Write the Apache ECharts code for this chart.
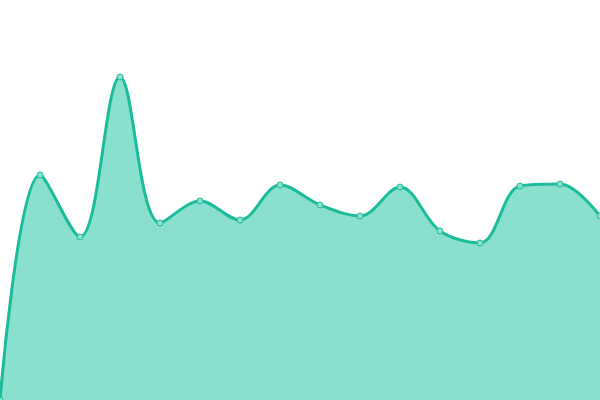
<!DOCTYPE html>
<html>
<head>
<meta charset="utf-8">
<script src="https://cdn.jsdelivr.net/npm/echarts@6/dist/echarts.min.js"></script>
<style>
html, body { margin: 0; padding: 0; background: #fff; }
#main { width: 600px; height: 400px; }
</style>
</head>
<body>
<div id="main"></div>
<script>
// x positions (one per point)
var categories = ['1', '2', '3', '4', '5', '6', '7', '8', '9', '10', '11', '12', '13', '14', '15', '16'];
// values
var values = [0, 225, 163, 323, 177, 199, 180, 215, 195, 184, 213, 169, 157, 214, 216, 184];

var chart = echarts.init(document.getElementById('main'));
chart.setOption({
	animation: false,
	grid: { left: 0, right: 0, top: 0, bottom: 0 },
	xAxis: {
		type: 'category',
		boundaryGap: false,
		data: categories,
		show: false
	},
	yAxis: {
		type: 'value',
		min: 0,
		max: 400,
		show: false
	},
	series: [
		{
			type: 'line',
			data: values,
			smooth: 0.35,
			symbol: 'circle',
			symbolSize: 6,
			lineStyle: { color: '#1abc9c', width: 3 },
			itemStyle: { color: '#8ae0cf', borderColor: '#1abc9c', borderWidth: 1 },
			areaStyle: { color: '#8ae0cf', opacity: 1 }
		}
	]
});
</script>
</body>
</html>
